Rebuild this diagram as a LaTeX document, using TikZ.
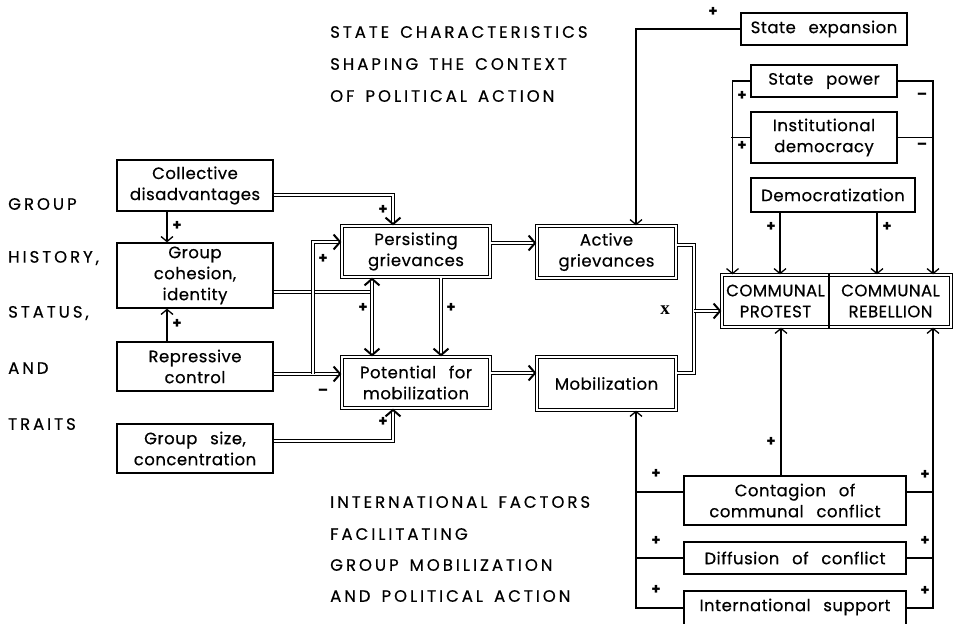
\documentclass[tikz,border=0pt]{standalone}
\usepackage{fontspec}
\setmainfont{Poppins}
\newfontfamily\bxfont[LetterSpace=3, FakeBold=0.5, WordSpace=2.6]{Poppins}
\newfontfamily\hdfont[LetterSpace=18, FakeBold=0.5, WordSpace=1.5]{Poppins}
\newfontfamily\xfont{Liberation Serif}
\usetikzlibrary{arrows.meta,decorations.markings}
\newcommand\bxf{\bxfont\fontsize{16.5}{21}\selectfont}
\newcommand\hdf{\hdfont\fontsize{16.5}{32}\selectfont}
\begin{document}
\begin{tikzpicture}[x=1pt,y=-1pt,
  bx/.style={draw, line width=1.3pt, align=center, inner sep=0pt, font=\bxf},
  dbox/.style={bx, double, double distance=1.4pt, line width=1.2pt},
  ln/.style={line width=1.3pt},
  arr/.style={ln, -{Straight Barb[length=5pt,width=12pt]}},
  dbl/.style={double, double distance=1.8pt, line width=1.2pt},
  darr/.style={dbl, shorten >=2pt, postaction={decorate, draw=none,
    decoration={markings, mark=at position 1 with {\arrow[line width=2pt]{Straight Barb[length=6.5pt,width=15pt]}}}}},
  sg/.style={font=\fontsize{15}{15}\selectfont\bfseries, inner sep=0pt},
  hd/.style={anchor=west, align=left, inner sep=0pt, font=\hdf}
]
\useasboundingbox (0,0) rectangle (957,623);
\clip (0,0) rectangle (957,623);

% left column
\node[bx, minimum width=156pt, minimum height=51pt] (cd) at (195,185.5) {Collective\\disadvantages};
\node[bx, minimum width=156pt, minimum height=65pt] (gc) at (195,275.5) {Group\\cohesion,\\identity};
\node[bx, minimum width=156pt, minimum height=49pt] (rc) at (195,366.5) {Repressive\\control};
\node[bx, minimum width=156pt, minimum height=49pt] (gs) at (195,448.5) {Group size,\\concentration};

% middle
\node[dbox, minimum width=148pt, minimum height=51pt] (pg) at (416,251.5) {Persisting\\grievances};
\node[dbox, minimum width=148pt, minimum height=51pt] (pm) at (416,382.5) {Potential for\\mobilization};
\node[dbox, minimum width=139pt, minimum height=52pt] (ag) at (606.5,252) {Active\\grievances};
\node[dbox, minimum width=139pt, minimum height=53pt] (mo) at (606.5,383.5) {Mobilization};

% communal
\node[dbox, minimum width=229pt, minimum height=52pt] (co) at (836.5,301) {};
\node[font=\bxf, align=center, inner sep=0pt] (cp) at (775.5,301) {COMMUNAL\\PROTEST};
\node[font=\bxf, align=center, inner sep=0pt] (cr) at (890.5,301) {COMMUNAL\\REBELLION};
\draw[ln] (co.north -| 829,0) -- (co.south -| 829,0);

% state
\node[bx, minimum width=166pt, minimum height=32pt] (se) at (824,29) {State expansion};
\node[bx, minimum width=146pt, minimum height=32pt] (sp) at (824,81) {State power};
\node[bx, minimum width=146pt, minimum height=51pt] (id) at (824,137.5) {Institutional\\democracy};
\node[bx, minimum width=164pt, minimum height=34pt] (dz) at (833,195) {Democratization};

% international
\node[bx, minimum width=222pt, minimum height=49pt] (cc) at (795,500.5) {Contagion of\\communal conflict};
\node[bx, minimum width=222pt, minimum height=32pt] (dc) at (795,558) {Diffusion of conflict};
\node[bx, minimum width=222pt, minimum height=44pt] (is) at (795,613) {};
\node[font=\bxf, inner sep=0pt] (ist) at (795,607) {International support};

% headings
\node[hd] (h1) at (330,32) {STATE CHARACTERISTICS};
\node[hd] (h2) at (330,64) {SHAPING THE CONTEXT};
\node[hd] (h3) at (330,96) {OF POLITICAL ACTION};
\node[hd] (h4) at (330,502) {INTERNATIONAL FACTORS};
\node[hd] (h5) at (330,534) {FACILITATING};
\node[hd] (h6) at (330,565) {GROUP MOBILIZATION};
\node[hd] (h7) at (330,596) {AND POLITICAL ACTION};
\node[hd] (l1) at (8,204) {GROUP};
\node[hd] (l2) at (8,258) {HISTORY,};
\node[hd] (l3) at (8,313) {STATUS,};
\node[hd] (l4) at (8,368) {AND};
\node[hd] (l5) at (8,424) {TRAITS};

% left column arrows
\draw[arr] ([xshift=-28pt]cd.south) -- ([xshift=-28pt]gc.north);
\draw[arr] ([xshift=-28pt]rc.north) -- ([xshift=-28pt]gc.south);
\node[sg] (s1) at (177,226) {+};
\node[sg] (s2) at (177,324) {+};

% double connectors
\draw[darr] ([yshift=-9.5pt]cd.east) -| ([xshift=-23pt]pg.north);
\node[sg] (s3) at (383,210) {+};
\coordinate (j1) at (372,292);
\draw[dbl] ([yshift=-16.5pt]gc.east) -- (j1);
\draw[darr] (j1) -- ([xshift=-44pt]pg.south);
\draw[darr] (j1) -- ([xshift=-44pt]pm.north);
\node[sg] (s4) at (363,308) {+};
\coordinate (j2) at (313,374);
\draw[darr] ([yshift=-7.5pt]rc.east) -- ([yshift=8.5pt]pm.west);
\draw[darr] (j2) |- ([yshift=9.5pt]pg.west);
\node[sg] (s5) at (323,259) {+};
\node[sg] (s6) at (323,392) {--};
\draw[darr] ([xshift=25pt]pg.south) -- ([xshift=25pt]pm.north);
\node[sg] (s7) at (451,308) {+};
\draw[darr] ([yshift=8.5pt]pg.east) -- ([yshift=9pt]ag.west);
\draw[darr] ([yshift=9.5pt]pm.east) -- ([yshift=10.5pt]mo.west);
\draw[darr] ([yshift=7.5pt]gs.east) -| ([xshift=-23pt]pm.south);
\node[sg] (s8) at (383,422) {+};
\coordinate (j3) at (694,311);
\draw[dbl] ([yshift=7pt]ag.east) -| (j3) |- ([yshift=10.5pt]mo.east);
\draw[darr] (j3) -- ([yshift=-10pt]co.west);
\node[font=\xfont\fontsize{19}{19}\selectfont\bfseries, inner sep=0pt] (xl) at (665,310) {x};

% state arrows
\draw[arr] (se.west) -| ([xshift=29.5pt]ag.north);
\node[sg] (s9) at (713,12) {+};
\draw[arr] (sp.west) -| ([xshift=-104pt]co.north);
\draw[ln] (id.west) -- ++(-19,0);
\draw[arr] (sp.east) -| ([xshift=96.5pt]co.north);
\draw[ln] (id.east) -- ++(36,0);
\node[sg] (s10) at (742,96) {+};
\node[sg] (s11) at (742,146) {+};
\node[sg] (s12) at (922,96) {--};
\node[sg] (s13) at (922,146) {--};
\draw[arr] ([xshift=-53pt]dz.south) -- ([xshift=-56.5pt]co.north);
\draw[arr] ([xshift=44pt]dz.south) -- ([xshift=40.5pt]co.north);
\node[sg] (s14) at (771,227) {+};
\node[sg] (s15) at (887,227) {+};

% international arrows
\draw[arr] ([xshift=-14pt]cc.north) -- ([xshift=-55.5pt]co.south);
\node[sg] (s16) at (771,442) {+};
\draw[arr] ([yshift=5pt]is.east) -| ([xshift=96.5pt]co.south);
\draw[ln] ([yshift=8.5pt]cc.east) -- ++(27,0);
\draw[ln] (dc.east) -- ++(27,0);
\draw[arr] ([yshift=5pt]is.west) -| ([xshift=29.5pt]mo.south);
\draw[ln] ([yshift=8.5pt]cc.west) -- ++(-48,0);
\draw[ln] (dc.west) -- ++(-48,0);
\node[sg] (s17) at (656,474) {+};
\node[sg] (s18) at (656,541) {+};
\node[sg] (s19) at (656,590) {+};
\node[sg] (s20) at (925,475) {+};
\node[sg] (s21) at (925,541) {+};
\node[sg] (s22) at (925,591) {+};
\end{tikzpicture}
\end{document}
